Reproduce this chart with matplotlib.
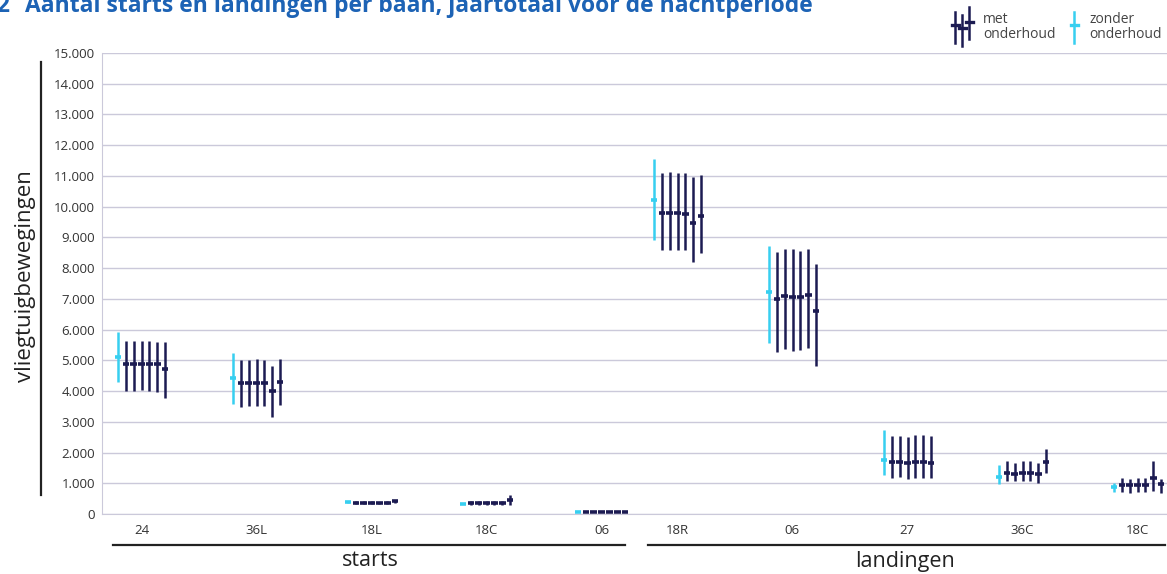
import matplotlib
matplotlib.use("Agg")
import numpy as np
import matplotlib.pyplot as plt
from matplotlib.lines import Line2D
from matplotlib.ticker import FuncFormatter

plt.rcParams['font.family'] = ['Open Sans', 'DejaVu Sans']

# runways, first five are starts, last five landings
runways = ['24', '36L', '18L', '18C', '06', '18R', '06', '27', '36C', '18C']

# zonder onderhoud (one value per runway)
zonder_mid = [5120, 4440, 380, 330, 80, 10210, 7210, 1770, 1210, 890]
zonder_lo = [4300, 3580, 360, 310, 70, 8920, 5580, 1270, 980, 730]
zonder_hi = [5930, 5230, 400, 350, 90, 11550, 8730, 2730, 1590, 1000]

# met onderhoud (six variants per runway)
met_mid = [
    [4890, 4890, 4890, 4890, 4870, 4710],
    [4250, 4250, 4250, 4250, 4000, 4310],
    [370, 370, 370, 350, 370, 410],
    [350, 350, 350, 350, 350, 450],
    [70, 70, 70, 70, 70, 70],
    [9790, 9780, 9790, 9750, 9470, 9710],
    [7010, 7080, 7050, 7050, 7140, 6620],
    [1680, 1680, 1650, 1680, 1690, 1670],
    [1340, 1300, 1340, 1340, 1290, 1680],
    [940, 940, 940, 940, 1180, 970],
]
met_lo = [
    [4010, 4010, 4020, 4010, 3980, 3770],
    [3490, 3520, 3520, 3520, 3150, 3550],
    [330, 320, 330, 320, 330, 360],
    [290, 290, 290, 290, 290, 290],
    [50, 50, 50, 50, 50, 50],
    [8590, 8590, 8590, 8590, 8190, 8500],
    [5280, 5360, 5290, 5340, 5410, 4830],
    [1160, 1190, 1130, 1160, 1160, 1160],
    [1080, 1080, 1080, 1080, 1020, 1320],
    [730, 670, 730, 730, 750, 690],
]
met_hi = [
    [5640, 5640, 5640, 5630, 5610, 5590],
    [5010, 5020, 5030, 5020, 4830, 5030],
    [420, 420, 420, 400, 420, 460],
    [420, 430, 420, 410, 410, 620],
    [100, 100, 100, 100, 100, 100],
    [11090, 11120, 11110, 11090, 10960, 11030],
    [8510, 8620, 8620, 8570, 8630, 8140],
    [2550, 2550, 2520, 2570, 2570, 2550],
    [1730, 1650, 1730, 1730, 1650, 2120],
    [1160, 1130, 1160, 1160, 1730, 1130],
]

DARK = '#1c1b52'
CYAN = '#37cff0'
GRID = '#cbc9da'
TXT = '#333333'
W, H = 1167, 574


def fx(x):
    return x / W


def fy(y):
    return 1 - y / H


fig = plt.figure(figsize=(W / 100, H / 100), dpi=100)
ax = fig.add_axes([fx(102), fy(514), 1 - fx(102), fy(53) - fy(514)])

# landings block sits a bit closer to the starts block
centers = np.arange(10) - 0.34 * (np.arange(10) >= 5)
half = 0.029

for i, c in enumerate(centers):
    x0 = c - 0.204
    ax.vlines(x0, zonder_lo[i], zonder_hi[i], color=CYAN, lw=1.8)
    ax.hlines(zonder_mid[i], x0 - half, x0 + half, color=CYAN, lw=2.6)
    for k in range(6):
        xk = c - 0.135 + 0.068 * k
        ax.vlines(xk, met_lo[i][k], met_hi[i][k], color=DARK, lw=1.8)
        ax.hlines(met_mid[i][k], xk - half, xk + half, color=DARK, lw=2.6)

ax.set_xlim(-0.343, 8.917)
ax.set_ylim(0, 15000)
ax.set_yticks(np.arange(0, 15001, 1000))
ax.yaxis.set_major_formatter(FuncFormatter(lambda v, p: f'{int(v):,}'.replace(',', '.')))
ax.set_xticks(centers, runways)
ax.grid(axis='y', color=GRID, lw=1.0)
ax.set_axisbelow(True)
ax.tick_params(axis='both', length=0, labelsize=9.5, labelcolor=TXT)
ax.tick_params(axis='y', pad=5)
ax.tick_params(axis='x', pad=7)
for s in ['top', 'right']:
    ax.spines[s].set_visible(False)
ax.spines['left'].set_color(GRID)
ax.spines['bottom'].set_color(GRID)

# y label with its bar
fig.text(fx(26), fy(276), 'vliegtuigbewegingen', rotation=90, ha='center', va='center',
         fontsize=16, color='#222222')
fig.add_artist(Line2D([fx(41), fx(41)], [fy(62), fy(495)], color='#222222', lw=1.6))

# group brackets below the axis
fig.add_artist(Line2D([fx(113), fx(625)], [fy(545), fy(545)], color='#222222', lw=1.6))
fig.add_artist(Line2D([fx(648), fx(1165)], [fy(545), fy(545)], color='#222222', lw=1.6))
fig.text(fx(370), fy(561), 'starts', ha='center', va='center', fontsize=15.5, color='#222222')
fig.text(fx(905), fy(561), 'landingen', ha='center', va='center', fontsize=15.5, color='#222222')

# title, cut off at the top like the source
fig.text(fx(-4), fy(12), '2', ha='left', va='baseline', fontsize=16.5, fontweight='bold', color='#1d63b5')
fig.text(fx(25), fy(12), 'Aantal starts en landingen per baan, jaartotaal voor de nachtperiode',
         ha='left', va='baseline', fontsize=16.5, fontweight='bold', color='#1d63b5')

# hand made legend
for x, lo, hi, mid in [(955, 12, 43, 25), (962, 15, 46, 28), (969, 7, 39, 22)]:
    fig.add_artist(Line2D([fx(x), fx(x)], [fy(lo), fy(hi)], color=DARK, lw=1.8))
    fig.add_artist(Line2D([fx(x - 3.5), fx(x + 3.5)], [fy(mid), fy(mid)], color=DARK, lw=2.4))
fig.add_artist(Line2D([fx(1074), fx(1074)], [fy(12), fy(43)], color=CYAN, lw=1.8))
fig.add_artist(Line2D([fx(1070.5), fx(1077.5)], [fy(25), fy(25)], color=CYAN, lw=2.4))
fig.text(fx(983), fy(27), 'met\nonderhoud', ha='left', va='center', fontsize=10,
         color='#444444', linespacing=1.0)
fig.text(fx(1089), fy(27), 'zonder\nonderhoud', ha='left', va='center', fontsize=10,
         color='#444444', linespacing=1.0)

fig.savefig('out.png', dpi=100)
